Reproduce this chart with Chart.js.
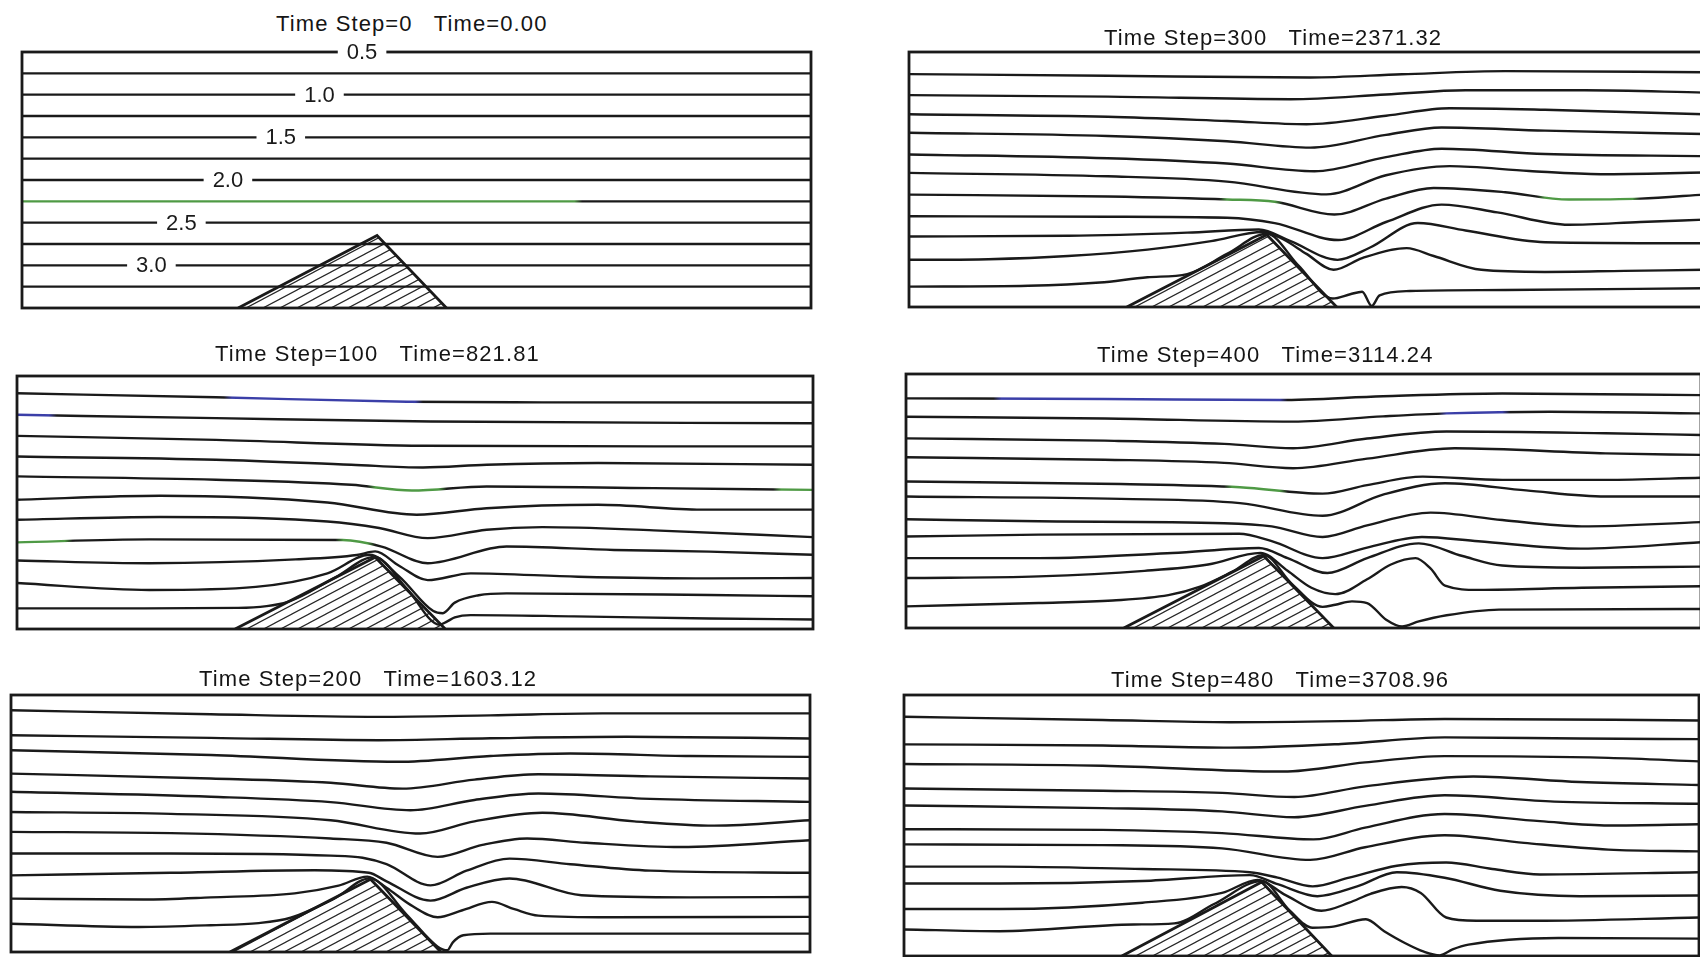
<!DOCTYPE html>
<html>
<head>
<meta charset="utf-8">
<title>Streamlines over a triangular ridge</title>
<script src="https://cdn.jsdelivr.net/npm/chart.js@4.4.1/dist/chart.umd.min.js"></script>
<style>
  html, body { margin: 0; padding: 0; background: #fff; }
  body { width: 1700px; height: 957px; overflow: hidden; position: relative; }
  .panel { position: absolute; }
  .title { position: absolute; font: 22px "Liberation Sans", Arial, sans-serif; letter-spacing: 1.1px;
           color: #151515; white-space: pre; line-height: 1; z-index: 2; }
</style>
</head>
<body>
<script>
// time step / time printed above each panel (panel order: row by row, left then right)
const timeSteps = [0, 300, 100, 400, 200, 480];
const times = ['0.00', '2371.32', '821.81', '3114.24', '1603.12', '3708.96'];

// stream function labels written on the initial field
const psiLabels = ['0.5', '1.0', '1.5', '2.0', '2.5', '3.0'];
const psiLabelLine = [12, 10, 8, 6, 4, 2];
const psiLabelX = [43.1, 37.7, 32.8, 26.1, 20.2, 16.4];

// obstacle outline: x along the channel (0-100), y height in line spacings (0-12)
const ridgeX = [27.4, 45, 53.8];
const ridgeY = [0, 3.4, 0];

// streamlines L1..L11 as [x, y] pairs
const step0 = [
  [[0, 1], [100, 1]], [[0, 2], [100, 2]], [[0, 3], [100, 3]], [[0, 4], [100, 4]],
  [[0, 5], [100, 5]], [[0, 6], [100, 6]], [[0, 7], [100, 7]], [[0, 8], [100, 8]],
  [[0, 9], [100, 9]], [[0, 10], [100, 10]], [[0, 11], [100, 11]]
];

const step100 = [
  [[0,0.98],[16,0.98],[27.8,1.0],[34.1,1.3],[40,2.45],[44.9,3.42],[49,1.9],[53.1,0.2],[54,0.35],[55,0.55],[57,0.66],[70,0.6],[87,0.5],[100,0.45]],
  [[0,2.18],[16.6,1.85],[30,2.0],[39,2.64],[44.3,3.52],[48,2.5],[52.3,0.85],[53.5,0.75],[55,1.25],[58,1.6],[61.5,1.69],[87,1.61],[100,1.55]],
  [[0,3.25],[16.6,3.12],[35,3.3],[42.7,3.51],[45,3.68],[48,3.0],[51.6,2.32],[57,2.64],[70.5,2.48],[87,2.4],[100,2.42]],
  [[0,4.11],[16.6,4.25],[40.9,4.22],[45.8,3.91],[51.6,3.12],[61.5,3.91],[75,3.75],[87,3.67],[100,3.52]],
  [[0,5.18],[18,5.31],[39,5.1],[45.5,4.79],[51.6,4.31],[59,4.71],[66,4.83],[80,4.68],[100,4.36]],
  [[0,6.13],[18,6.32],[39,6.0],[50.2,5.42],[59,5.73],[73,5.89],[86,5.66],[100,5.66]],
  [[0,7.24],[25,7.08],[42,6.84],[49.6,6.57],[59,6.76],[80,6.68],[100,6.6]],
  [[0,8.18],[25,8.03],[42,7.79],[51,7.66],[59,7.79],[73,7.87],[100,7.79]],
  [[0,9.16],[25,8.97],[51,8.69],[80,8.66],[100,8.66]],
  [[0,10.16],[25,10.0],[52,9.84],[100,9.76]],
  [[0,11.18],[25,10.99],[49,10.78],[66,10.75],[100,10.74]]
];

const step200 = [
  [[0,1.32],[16,1.17],[25,1.25],[31,1.35],[35,1.6],[40.5,2.5],[44.9,3.44],[49.5,1.75],[53.4,0.25],[54.6,0.08],[55.3,0.45],[56.6,0.78],[60,0.86],[100,0.86]],
  [[0,2.49],[16.6,2.45],[25,2.55],[35.5,2.74],[41,3.1],[44.6,3.52],[47,3.0],[50,2.2],[53.4,1.62],[56.5,1.95],[60.2,2.34],[63,2.0],[66,1.7],[75,1.62],[100,1.64]],
  [[0,3.58],[20,3.7],[38,3.82],[44.8,3.7],[47,3.3],[52.5,2.4],[57,3.0],[62.4,3.43],[71.4,2.65],[85,2.55],[100,2.57]],
  [[0,4.6],[20,4.6],[40,4.5],[44,4.4],[47,4.1],[52.5,3.11],[57,3.8],[62.4,4.36],[70,4.1],[80,3.8],[100,3.7]],
  [[0,5.61],[20,5.55],[40,5.3],[47,5.1],[53.4,4.44],[59,5.0],[64.6,5.3],[72,5.1],[83.8,4.9],[100,5.22]],
  [[0,6.54],[20,6.45],[40,6.15],[51.2,5.53],[58,6.1],[66.5,6.5],[78,6.1],[88,5.9],[100,6.15]],
  [[0,7.48],[25,7.25],[40,7.0],[50,6.62],[58,7.1],[66,7.4],[80,7.15],[100,7.01]],
  [[0,8.33],[25,8.1],[40,7.9],[49,7.63],[58,8.05],[66,8.3],[80,8.2],[100,8.1]],
  [[0,9.42],[25,9.2],[48.4,8.88],[60,9.15],[70,9.27],[85,9.15],[100,9.11]],
  [[0,10.12],[25,10.0],[46,9.89],[60,9.98],[77,10.05],[100,9.97]],
  [[0,11.29],[25,11.1],[46,10.98],[60,11.05],[74,11.14],[100,11.14]]
];

const step300 = [
  [[0,0.96],[15,1.0],[24,1.15],[30,1.4],[35,1.55],[40,2.5],[45,3.45],[49,1.95],[53.3,0.4],[55.5,0.6],[57,0.72],[58.2,0.05],[59.2,0.55],[63,0.75],[75,0.8],[100,0.88]],
  [[0,2.22],[10,2.25],[20,2.4],[30,2.7],[38,3.1],[44.5,3.53],[47,3.2],[50,2.5],[53.4,1.75],[57,2.3],[62.6,2.77],[66,2.4],[72,1.75],[80,1.65],[90,1.7],[100,1.75]],
  [[0,3.32],[20,3.35],[35,3.5],[44,3.65],[48,3.1],[53.9,2.22],[58,2.8],[64,3.95],[70,3.6],[80,3.05],[100,3.0]],
  [[0,4.27],[25,4.25],[40,4.2],[46,3.95],[54,3.15],[60,4.0],[67,4.82],[74,4.45],[83,3.87],[92,4.0],[100,4.11]],
  [[0,5.29],[25,5.2],[40,5.06],[46,4.95],[53.5,4.35],[60,5.1],[66,5.6],[75,5.4],[83,5.06],[92,5.1],[100,5.29]],
  [[0,6.31],[25,6.15],[40,5.9],[52.5,5.3],[60,6.2],[68,6.63],[78,6.4],[87,6.25],[100,6.33]],
  [[0,7.18],[25,7.0],[40,6.75],[51,6.39],[60,7.05],[67,7.45],[80,7.2],[100,7.1]],
  [[0,8.2],[25,8.05],[40,7.8],[50.5,7.5],[60,8.1],[67,8.45],[80,8.3],[100,8.14]],
  [[0,9.07],[25,8.95],[40,8.75],[50,8.6],[60,9.0],[68,9.35],[80,9.28],[100,9.07]],
  [[0,9.97],[25,9.9],[48,9.78],[60,10.0],[70,10.2],[85,10.2],[100,10.09]],
  [[0,10.96],[25,10.88],[50.5,10.8],[62,10.95],[75,11.1],[100,11.05]]
];

const step400 = [
  [[0,1.02],[16.7,1.18],[26,1.3],[33,1.55],[37,1.95],[41,2.65],[45,3.45],[48.5,2.1],[52.4,1.0],[54,1.1],[56.1,1.26],[58,1.18],[60.4,0.39],[62.4,0.07],[64.5,0.31],[68,0.6],[74.6,0.87],[100,0.9]],
  [[0,2.36],[16.7,2.44],[30,2.7],[38,3.0],[44.6,3.55],[48,2.7],[51,1.9],[54,1.6],[58,2.3],[61,3.0],[64.1,3.3],[66,2.8],[67.8,2.0],[72,1.8],[85,1.9],[100,1.97]],
  [[0,3.3],[16.7,3.3],[33.5,3.54],[44.4,3.78],[48,3.3],[53,2.6],[58,3.3],[64.5,4.0],[70,3.4],[75,2.95],[85,2.85],[100,2.9]],
  [[0,4.32],[16.7,4.41],[41.9,4.45],[46,4.1],[52.4,3.3],[58,3.8],[64.9,4.3],[72,4.1],[84.9,3.75],[100,4.05]],
  [[0,5.14],[16.7,5.04],[40,4.95],[46,4.8],[52.4,4.3],[58,4.85],[66,5.45],[75,5.1],[85,4.8],[100,5.0]],
  [[0,6.21],[27,6.1],[42,5.9],[52.4,5.3],[60,6.3],[67.8,6.84],[78,6.5],[88,6.21],[100,6.21]],
  [[0,6.92],[27,6.8],[42,6.65],[52.4,6.35],[58,6.75],[65,7.15],[75,7.0],[88,7.0],[100,7.1]],
  [[0,8.07],[25,7.95],[40,7.8],[48.7,7.55],[58,8.0],[69,8.49],[88,8.25],[100,8.18]],
  [[0,8.96],[25,8.85],[40,8.7],[48.7,8.49],[58,8.95],[68,9.28],[88,9.2],[100,9.12]],
  [[0,9.98],[25,9.9],[48.7,9.75],[60,10.0],[68,10.14],[81,10.22],[100,10.14]],
  [[0,10.85],[25,10.82],[47,10.77],[60,10.95],[75,11.08],[100,11.0]]
];

const step480 = [
  [[0,1.22],[12,1.14],[28.9,1.45],[34,1.5],[39,2.39],[45,3.45],[48.5,2.1],[51.4,1.3],[54,1.35],[58.1,1.69],[60.4,1.14],[63,0.6],[65.4,0.2],[67.4,0.03],[69,0.3],[71,0.52],[82.3,0.83],[100,0.8]],
  [[0,2.16],[12,2.16],[30,2.45],[40,2.9],[44.5,3.5],[48,2.8],[52.5,2.08],[56,2.45],[58.7,2.86],[62.6,3.17],[65,2.9],[68.2,1.77],[72,1.62],[79.4,1.62],[100,1.77]],
  [[0,3.33],[12,3.33],[30,3.45],[43.5,3.72],[47,3.3],[52,2.75],[57,3.2],[62,3.85],[68,3.6],[75,3.0],[85,2.75],[100,2.78]],
  [[0,4.11],[12,4.11],[30,4.0],[43.5,3.85],[47,3.6],[51.4,3.2],[56,3.6],[62,4.15],[68.2,4.3],[74,4.0],[80,3.75],[100,3.85]],
  [[0,5.13],[25,5.1],[40,4.95],[51.1,4.42],[58,5.0],[68,5.55],[78,5.2],[88.6,4.89],[100,4.81]],
  [[0,5.83],[25,5.8],[40,5.65],[51.5,5.36],[58,5.9],[68,6.53],[80,6.2],[88.6,6.0],[100,6.06]],
  [[0,6.92],[25,6.8],[40,6.65],[49.1,6.38],[58,6.9],[68,7.39],[81.8,7.1],[100,7.0]],
  [[0,7.7],[25,7.6],[40,7.5],[49.1,7.31],[58,7.8],[71.6,8.25],[85,8.0],[100,7.86]],
  [[0,8.83],[25,8.75],[47.7,8.48],[58,8.9],[68,9.19],[88.6,9.11],[100,8.95]],
  [[0,9.73],[25,9.68],[41,9.58],[55,9.75],[68,10.05],[85,10.0],[100,9.97]],
  [[0,11.0],[25,10.85],[41,10.75],[55,10.8],[68,10.9],[100,10.83]]
];

// where each frame sits on the page
const layout = [
  { lines: step0,   left: 22,  top: 52,  width: 789, height: 256, titleX: 276,  titleY: 13,  labels: true },
  { lines: step300, left: 909, top: 52,  width: 795, height: 255, titleX: 1104, titleY: 27 },
  { lines: step100, left: 17,  top: 376, width: 796, height: 253, titleX: 215,  titleY: 343 },
  { lines: step400, left: 906, top: 374, width: 795, height: 254, titleX: 1097, titleY: 344 },
  { lines: step200, left: 11,  top: 695, width: 799, height: 257, titleX: 199,  titleY: 668 },
  { lines: step480, left: 904, top: 695, width: 795, height: 261, titleX: 1111, titleY: 669 }
];

// faint coloured stretches in the printed copy: [panel, line, from x, to x, colour]
const green = '#4f9a45', blue = '#3b3fa8';
const tints = [
  [0, 5, 0, 70, green],
  [1, 5, 40, 46, green], [1, 5, 80, 91, green],
  [2, 11, 27, 50, blue], [2, 10, 0, 4, blue], [2, 7, 45, 53, green], [2, 7, 96, 100, green],
  [2, 4, 0, 6, green], [2, 4, 41, 44, green],
  [3, 11, 12, 47, blue], [3, 10, 68, 75, blue], [3, 7, 41, 47, green]
];

const ink = '#1a1a1a';
const pad = 14;

// diagonal hatching for the ridge
function hatchPattern() {
  const c = document.createElement('canvas');
  c.width = 17; c.height = 9;
  const g = c.getContext('2d');
  g.strokeStyle = '#262626';
  g.lineWidth = 1.2;
  g.beginPath();
  [-9, 0, 9].forEach(b => { g.moveTo(-17, b + 18); g.lineTo(34, b - 9); });
  g.stroke();
  return g.createPattern(c, 'repeat');
}

// black line with coloured stretches, built once the chart area is known
function lineColour(panel, line) {
  const mine = tints.filter(t => t[0] === panel && t[1] === line);
  if (!mine.length) return ink;
  return (c) => {
    const a = c.chart.chartArea;
    if (!a) return ink;
    const g = c.chart.ctx.createLinearGradient(a.left, 0, a.right, 0);
    g.addColorStop(0, ink);
    mine.forEach(([, , x0, x1, col]) => {
      const f0 = x0 / 100, f1 = x1 / 100;
      g.addColorStop(Math.max(0, f0 - 0.01), ink);
      g.addColorStop(f0, col);
      g.addColorStop(f1, col);
      g.addColorStop(Math.min(1, f1 + 0.01), ink);
    });
    g.addColorStop(1, ink);
    return g;
  };
}

// frame around the channel + the psi labels on the first panel
const framePlugin = {
  id: 'frame',
  afterDatasetsDraw(chart, args, opts) {
    const { ctx, chartArea: a } = chart;
    ctx.save();
    ctx.strokeStyle = ink;
    ctx.lineWidth = 2.8;
    ctx.strokeRect(a.left, a.top, a.right - a.left, a.bottom - a.top);
    if (opts.labels) {
      ctx.font = '22px "Liberation Sans", Arial, sans-serif';
      ctx.textAlign = 'center';
      ctx.textBaseline = 'middle';
      psiLabels.forEach((txt, k) => {
        const x = chart.scales.x.getPixelForValue(psiLabelX[k]);
        const y = chart.scales.y.getPixelForValue(psiLabelLine[k]);
        const w = ctx.measureText(txt).width;
        ctx.fillStyle = '#fff';
        ctx.fillRect(x - w / 2 - 9, y - 4, w + 18, 8);
        ctx.fillStyle = ink;
        ctx.fillText(txt, x, y + 1);
      });
    }
    ctx.restore();
  }
};

const hatch = hatchPattern();

layout.forEach((p, i) => {
  const cv = document.createElement('canvas');
  cv.className = 'panel';
  cv.width = p.width + 2 * pad;
  cv.height = p.height + 2 * pad;
  cv.style.left = (p.left - pad) + 'px';
  cv.style.top = (p.top - pad) + 'px';
  document.body.appendChild(cv);

  const t = document.createElement('div');
  t.className = 'title';
  t.style.left = p.titleX + 'px';
  t.style.top = p.titleY + 'px';
  t.textContent = 'Time Step=' + timeSteps[i] + '   Time=' + times[i];
  document.body.appendChild(t);

  const datasets = p.lines.map((line, k) => ({
    data: line.map(([x, y]) => ({ x, y })),
    borderColor: lineColour(i, k + 1),
    borderWidth: 2.4,
    pointRadius: 0,
    fill: false,
    cubicInterpolationMode: 'monotone',
    order: 0
  }));
  datasets.push({
    data: ridgeX.map((x, k) => ({ x, y: ridgeY[k] })),
    borderColor: ink,
    borderWidth: 2.8,
    backgroundColor: hatch,
    fill: 'origin',
    tension: 0,
    pointRadius: 0,
    order: 1
  });

  new Chart(cv, {
    type: 'line',
    data: { datasets },
    options: {
      responsive: false,
      animation: false,
      events: [],
      layout: { padding: pad },
      plugins: {
        legend: { display: false },
        tooltip: { enabled: false },
        frame: { labels: !!p.labels }
      },
      scales: {
        x: { type: 'linear', min: 0, max: 100, display: false },
        y: { type: 'linear', min: 0, max: 12, display: false }
      }
    },
    plugins: [framePlugin]
  });
});
</script>
</body>
</html>
